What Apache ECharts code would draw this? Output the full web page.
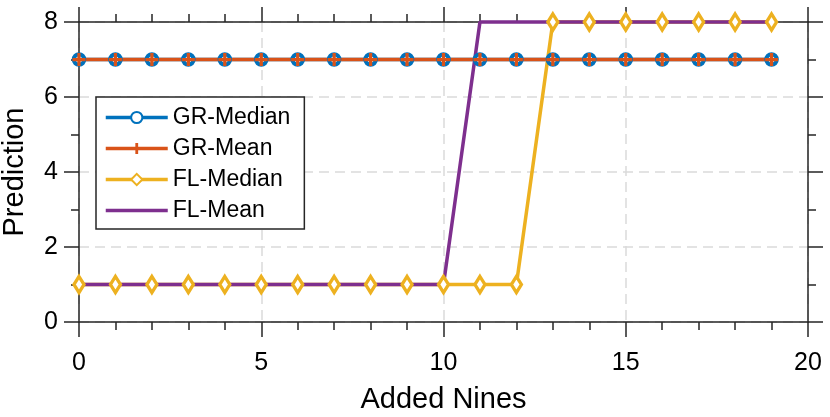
<!DOCTYPE html>
<html>
<head>
<meta charset="utf-8">
<script src="https://cdn.jsdelivr.net/npm/echarts@6/dist/echarts.min.js"></script>
<style>
html,body{margin:0;padding:0;background:#fff;}
#chart{width:830px;height:417px;}
</style>
</head>
<body>
<div id="chart"></div>
<script>
var addedNines = [0,1,2,3,4,5,6,7,8,9,10,11,12,13,14,15,16,17,18,19];
var grMedian = [7,7,7,7,7,7,7,7,7,7,7,7,7,7,7,7,7,7,7,7];
var grMean   = [7,7,7,7,7,7,7,7,7,7,7,7,7,7,7,7,7,7,7,7];
var flMedian = [1,1,1,1,1,1,1,1,1,1,1,1,1,8,8,8,8,8,8,8];
var flMean   = [1,1,1,1,1,1,1,1,1,1,1,8,8,8,8,8,8,8,8,8];
var seriesNames = ['GR-Median','GR-Mean','FL-Median','FL-Mean'];

function pairs(ys){ return addedNines.map(function(x,i){ return [x, ys[i]]; }); }

var FONT = '"Liberation Sans", Arial, Helvetica, sans-serif';
var plusPath = 'path://M4.5,0H7.5V4.5H12V7.5H7.5V12H4.5V7.5H0V4.5H4.5Z';
var lineIcon = 'path://M0,0H0.01V0.01H0Z M61.99,13.99H62V14H61.99Z M0,5.2H62V8.8H0Z';

var chart = echarts.init(document.getElementById('chart'));
var axisLineStyle = {color:'#262626', width:1.5};
var tickCommon = {show:true, inside:false, length:15, lineStyle:{color:'#262626', width:1.5}};
var minorCommon = {show:true, length:8, lineStyle:{color:'#262626', width:1.5}};

chart.setOption({
  animation:false,
  backgroundColor:'#fff',
  grid:{left:79, right:22, top:22, bottom:95, containLabel:false, outerBoundsMode:'none'},
  legend:{
    orient:'vertical', left:96, top:97,
    data:[seriesNames[0], seriesNames[1], seriesNames[2], {name:seriesNames[3], icon:lineIcon}],
    backgroundColor:'#fff', borderColor:'#262626', borderWidth:1.5, borderRadius:0,
    padding:[9,14,7,8],
    itemWidth:62, itemHeight:14, itemGap:8,
    lineStyle:{width:3.5},
    textStyle:{fontFamily:FONT, fontSize:23, color:'#000'}
  },
  xAxis:[{
    type:'value', min:0, max:20, interval:5,
    name:'Added Nines', nameLocation:'middle', nameGap:63,
    nameTextStyle:{fontFamily:FONT, fontSize:29, color:'#000'},
    axisLine:{show:true, onZero:false, lineStyle:axisLineStyle},
    axisTick:tickCommon,
    minorTick:Object.assign({splitNumber:5}, minorCommon),
    axisLabel:{fontFamily:FONT, fontSize:25, color:'#000', margin:29},
    splitLine:{show:true, lineStyle:{color:'#dadada', width:1.5, type:[10,6]}}
  },{
    type:'value', min:0, max:20, interval:5, position:'top',
    axisLine:{show:true, onZero:false, lineStyle:axisLineStyle},
    axisTick:tickCommon,
    minorTick:Object.assign({splitNumber:5}, minorCommon),
    axisLabel:{show:false}, splitLine:{show:false}
  }],
  yAxis:[{
    type:'value', min:0, max:8, interval:2,
    name:'Prediction', nameLocation:'middle', nameGap:50, nameRotate:90,
    nameTextStyle:{fontFamily:FONT, fontSize:29, color:'#000'},
    axisLine:{show:true, onZero:false, lineStyle:axisLineStyle},
    axisTick:tickCommon,
    minorTick:Object.assign({splitNumber:2}, minorCommon),
    axisLabel:{fontFamily:FONT, fontSize:25, color:'#000', margin:21},
    splitLine:{show:true, lineStyle:{color:'#dadada', width:1.5, type:[10,6]}}
  },{
    type:'value', min:0, max:8, interval:2, position:'right',
    axisLine:{show:true, onZero:false, lineStyle:axisLineStyle},
    axisTick:tickCommon,
    minorTick:Object.assign({splitNumber:2}, minorCommon),
    axisLabel:{show:false}, splitLine:{show:false}
  }],
  series:[{
    name:seriesNames[0], type:'line', data:pairs(grMedian), clip:false,
    symbol:'circle', symbolSize:10.5, showAllSymbol:true,
    lineStyle:{color:'#0072BD', width:3.5},
    itemStyle:{color:'#fff', borderColor:'#0072BD', borderWidth:4}
  },{
    name:seriesNames[1], type:'line', data:pairs(grMean), clip:false,
    symbol:plusPath, symbolSize:13, showAllSymbol:true,
    lineStyle:{color:'#D95319', width:3.5},
    itemStyle:{color:'#D95319', borderWidth:0}
  },{
    name:seriesNames[2], type:'line', data:pairs(flMedian), clip:false,
    symbol:'diamond', symbolSize:[10,16], showAllSymbol:true,
    lineStyle:{color:'#EDB120', width:3.5},
    itemStyle:{color:'#fff', borderColor:'#EDB120', borderWidth:3.5}
  },{
    name:seriesNames[3], type:'line', data:pairs(flMean), clip:false,
    symbol:'none', showSymbol:false,
    lineStyle:{color:'#7E2F8E', width:3.5},
    itemStyle:{color:'#7E2F8E'}
  }]
});
</script>
</body>
</html>
